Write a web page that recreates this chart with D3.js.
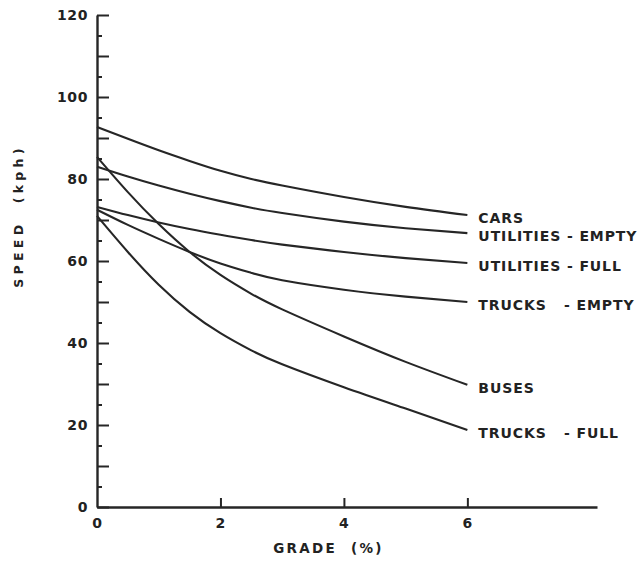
<!DOCTYPE html>
<html>
<head>
<meta charset="utf-8">
<script src="https://cdn.jsdelivr.net/npm/d3@7"></script>
<style>
  html, body { margin: 0; padding: 0; background: #fff; }
  svg { display: block; }
  text { font-family: "DejaVu Sans", sans-serif; font-weight: bold; fill: #222; }
</style>
</head>
<body>
<svg id="chart" width="639" height="561"></svg>
<script>
// ---- data ----
const grades = [0, 0.5, 1, 1.5, 2, 2.5, 3, 4, 5, 6];
const seriesNames = ["CARS", "UTILITIES - EMPTY", "UTILITIES - FULL", "TRUCKS   - EMPTY", "BUSES", "TRUCKS   - FULL"];
const cars          = [92.7, 89.8, 87.0, 84.4, 82.0, 80.0, 78.4, 75.6, 73.2, 71.2];
const utilitiesEmpty= [83.0, 80.6, 78.4, 76.4, 74.6, 73.0, 71.7, 69.6, 68.0, 66.8];
const utilitiesFull = [73.2, 71.2, 69.4, 67.8, 66.4, 65.1, 64.0, 62.2, 60.7, 59.5];
const trucksEmpty   = [72.5, 68.8, 65.4, 62.2, 59.4, 57.1, 55.3, 53.0, 51.3, 50.0];
const buses         = [85.4, 76.8, 69.0, 62.2, 56.6, 52.0, 48.2, 41.6, 35.4, 29.8];
const trucksFull    = [71.0, 62.2, 54.2, 47.6, 42.4, 38.2, 34.8, 29.2, 24.0, 18.8];
const yTickLabels = [0, 20, 40, 60, 80, 100, 120];
const xTickLabels = [0, 2, 4, 6];

const allSeries = [cars, utilitiesEmpty, utilitiesFull, trucksEmpty, buses, trucksFull];

const svg = d3.select("#chart");
const x = d3.scaleLinear().domain([0, 8.1]).range([97, 597]);
const y = d3.scaleLinear().domain([0, 120]).range([507, 15]);
const ink = "#262626";

// y axis: ticks every 5, inward
const yAxis = d3.axisRight(y)
  .tickValues(d3.range(0, 121, 5))
  .tickSizeOuter(0)
  .tickFormat("");
const gy = svg.append("g").attr("transform", `translate(${x(0)},0)`).call(yAxis);
gy.select(".domain").attr("stroke", ink).attr("stroke-width", 2.4);
gy.selectAll(".tick line")
  .attr("stroke", ink).attr("stroke-width", 2)
  .attr("x2", d => d % 10 === 0 ? 12 : 5);

svg.append("g").selectAll("text").data(yTickLabels).join("text")
  .attr("x", x(0) - 9).attr("y", d => y(d))
  .attr("text-anchor", "end").attr("dominant-baseline", "central")
  .attr("font-size", 14).attr("letter-spacing", 0.6)
  .text(d => d);

// x axis: ticks inward (upward)
const xAxis = d3.axisBottom(x).tickValues([2, 4, 6]).tickSizeInner(-9).tickSizeOuter(0).tickFormat("");
const gx = svg.append("g").attr("transform", `translate(0,${y(0)})`).call(xAxis);
gx.select(".domain").attr("stroke", ink).attr("stroke-width", 2.4);
gx.selectAll(".tick line").attr("stroke", ink).attr("stroke-width", 2);

svg.append("g").selectAll("text").data(xTickLabels).join("text")
  .attr("x", d => x(d)).attr("y", y(0) + 16)
  .attr("text-anchor", "middle").attr("dominant-baseline", "central")
  .attr("font-size", 14)
  .text(d => d);

// axis titles
svg.append("text")
  .attr("x", x(3.75)).attr("y", 548)
  .attr("text-anchor", "middle").attr("dominant-baseline", "central")
  .attr("font-size", 13.5).attr("letter-spacing", 2.3)
  .style("white-space", "pre")
  .text("GRADE  (%)");

svg.append("text")
  .attr("transform", `translate(18,216) rotate(-90)`)
  .attr("text-anchor", "middle").attr("dominant-baseline", "central")
  .attr("font-size", 12.5).attr("letter-spacing", 4.3)
  .style("white-space", "pre")
  .text("SPEED  (kph)");

// curves
const line = d3.line()
  .x((d, i) => x(grades[i]))
  .y(d => y(d))
  .curve(d3.curveNatural);

svg.append("g").selectAll("path").data(allSeries).join("path")
  .attr("d", d => line(d))
  .attr("fill", "none")
  .attr("stroke", ink)
  .attr("stroke-width", 2.1);

// series labels
svg.append("g").selectAll("text").data(allSeries).join("text")
  .attr("x", x(6) + 11)
  .attr("y", d => y(d[d.length - 1]) + 3)
  .attr("dominant-baseline", "central")
  .attr("font-size", 14).attr("letter-spacing", 0.9)
  .style("white-space", "pre")
  .text((d, i) => seriesNames[i]);
</script>
</body>
</html>
